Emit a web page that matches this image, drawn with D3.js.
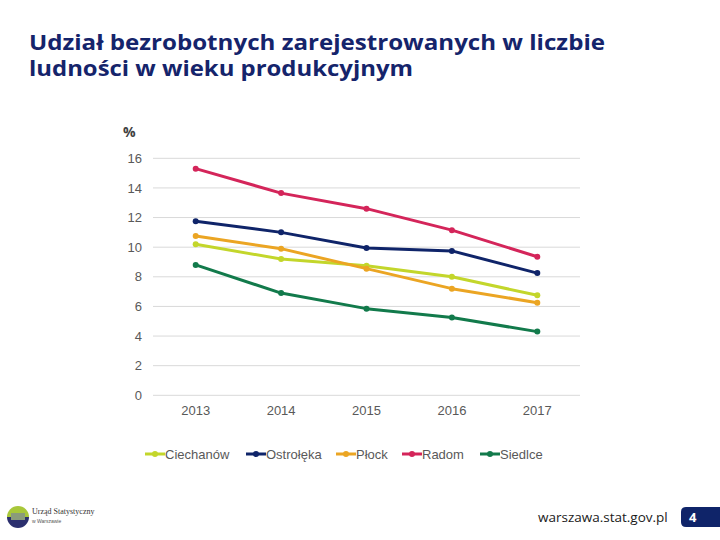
<!DOCTYPE html>
<html><head><meta charset="utf-8">
<script src="https://cdn.jsdelivr.net/npm/d3@7"></script>
<style>body{margin:0;background:#fff;}svg{display:block;}</style>
</head><body>
<script>
const years = ["2013","2014","2015","2016","2017"];
const seriesNames = ["Ciechanów","Ostrołęka","Płock","Radom","Siedlce"];
const ciechanow = [10.2, 9.2, 8.75, 8.0, 6.75];
const ostroleka = [11.75, 11.0, 9.95, 9.75, 8.25];
const plock = [10.75, 9.9, 8.55, 7.2, 6.25];
const radom = [15.3, 13.65, 12.6, 11.15, 9.35];
const siedlce = [8.8, 6.9, 5.85, 5.25, 4.3];
const yTicks = [0,2,4,6,8,10,12,14,16];
const colors = ["#C3D62B","#0F2469","#EBA523","#D4255A","#127A4B"];
const allValues = [ciechanow, ostroleka, plock, radom, siedlce];

const W=720,H=540;
const svg=d3.select("body").append("svg").attr("width",W).attr("height",H);
svg.append("rect").attr("width",W).attr("height",H).attr("fill","#fff");

// title
const title = svg.append("text").attr("x",29).attr("fill","#15246B")
  .attr("font-family","'Open Sans', 'DejaVu Sans', sans-serif").attr("font-weight","bold").attr("font-size",21);
title.append("tspan").attr("x",29).attr("y",50).attr("textLength",576).attr("lengthAdjust","spacingAndGlyphs").text("Udział bezrobotnych zarejestrowanych w liczbie");
title.append("tspan").attr("x",29).attr("y",76).attr("textLength",384).attr("lengthAdjust","spacingAndGlyphs").text("ludności w wieku produkcyjnym");

const x=d3.scaleBand().domain(years).range([153,580]);
const y=d3.scaleLinear().domain([0,16]).range([395.3,158.3]);

// gridlines
svg.append("g").selectAll("line").data(yTicks).join("line")
  .attr("x1",153).attr("x2",580).attr("y1",d=>y(d)).attr("y2",d=>y(d))
  .attr("stroke","#D9D9D9").attr("stroke-width",1);

// y axis
const yAxis=d3.axisLeft(y).tickValues(yTicks).tickSize(0).tickPadding(11);
const gy=svg.append("g").attr("transform","translate(153,0)").call(yAxis);
gy.select(".domain").remove();
gy.selectAll("text").attr("font-family","'Liberation Sans', Arial, sans-serif").attr("font-size",13).attr("fill","#595959");

// x axis
const xAxis=d3.axisBottom(x).tickSize(0).tickPadding(10);
const gx=svg.append("g").attr("transform","translate(0,395.3)").call(xAxis);
gx.select(".domain").remove();
gx.selectAll("text").attr("font-family","'Liberation Sans', Arial, sans-serif").attr("font-size",13).attr("fill","#595959");

// % label
svg.append("text").attr("x",123).attr("y",137).text("%")
  .attr("font-family","'Open Sans', sans-serif").attr("font-weight","bold").attr("font-size",14).attr("fill","#404040");

const line=d3.line().x((d,i)=>x(years[i])+x.bandwidth()/2).y(d=>y(d));
allValues.forEach((vals,k)=>{
  svg.append("path").datum(vals).attr("d",line).attr("fill","none")
    .attr("stroke",colors[k]).attr("stroke-width",3).attr("stroke-linejoin","round");
  svg.append("g").selectAll("circle").data(vals).join("circle")
    .attr("cx",(d,i)=>x(years[i])+x.bandwidth()/2).attr("cy",d=>y(d)).attr("r",3)
    .attr("fill",colors[k]);
});

// legend
const legendX=[145,246,336,402,480];
const lg=svg.append("g");
seriesNames.forEach((n,k)=>{
  const g=lg.append("g").attr("transform",`translate(${legendX[k]},454)`);
  g.append("line").attr("x1",0).attr("x2",20).attr("stroke",colors[k]).attr("stroke-width",3);
  g.append("circle").attr("cx",10).attr("r",3).attr("fill",colors[k]);
  g.append("text").attr("x",20).attr("y",5).text(n)
    .attr("font-family","'Liberation Sans', Arial, sans-serif").attr("font-size",13).attr("fill","#595959");
});

// footer logo
const logo=svg.append("g").attr("transform","translate(18,517)");
logo.append("path").attr("d",d3.arc()({innerRadius:0,outerRadius:11,startAngle:-Math.PI/2,endAngle:Math.PI/2})).attr("fill","#A8C73A");
logo.append("path").attr("d",d3.arc()({innerRadius:0,outerRadius:11,startAngle:Math.PI/2,endAngle:3*Math.PI/2})).attr("fill","#2B2F6E");
logo.append("rect").attr("x",-7).attr("y",-4).attr("width",14).attr("height",7).attr("fill","#8A9B7A");
svg.append("text").attr("x",32).attr("y",514).text("Urząd Statystyczny")
  .attr("font-family","'Liberation Serif', serif").attr("font-size",8).attr("fill","#333");
svg.append("text").attr("x",32).attr("y",523).text("w Warszawie")
  .attr("font-family","'Liberation Sans', sans-serif").attr("font-size",5).attr("fill","#555");

svg.append("text").attr("x",538).attr("y",522).text("warszawa.stat.gov.pl")
  .attr("font-family","'Open Sans', sans-serif").attr("font-size",13.5).attr("fill","#1a1a1a");

// page number box
svg.append("path").attr("d","M720,507 L686,507 Q681,507 681,512 L681,522 Q681,527 686,527 L720,527 Z").attr("fill","#0F2469");
svg.append("text").attr("x",689).attr("y",522).text("4")
  .attr("font-family","'Open Sans', sans-serif").attr("font-weight","bold").attr("font-size",13).attr("fill","#fff");
</script>
</body></html>
